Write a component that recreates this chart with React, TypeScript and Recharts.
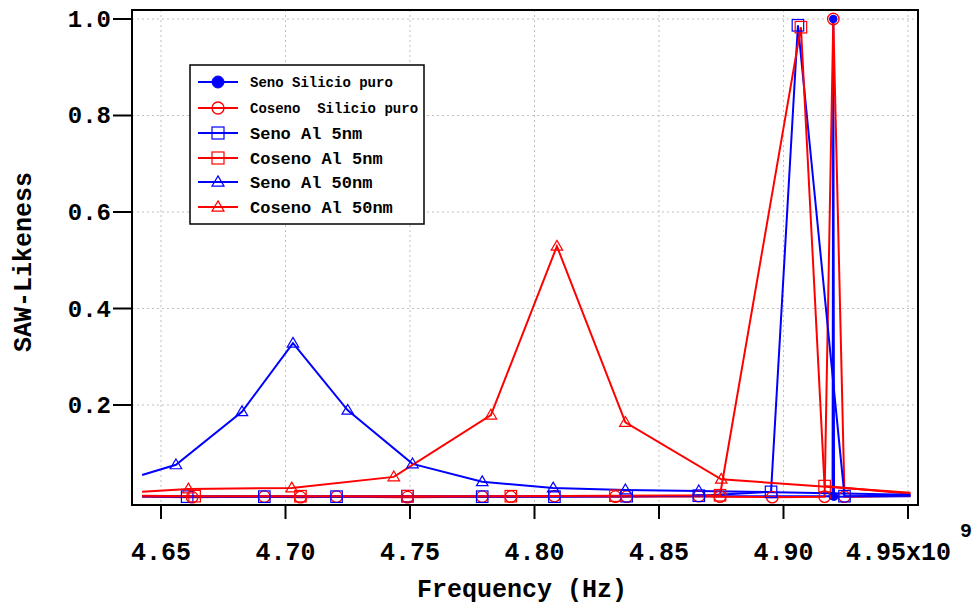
import React from 'react'
import { LineChart, Line, XAxis, YAxis, CartesianGrid, ReferenceArea } from 'recharts'

const FONT = "'Liberation Mono', 'Courier New', monospace"
const BLUE = '#0000ff'
const RED = '#ff0000'

// frequencies in units of 1e9 Hz
const X_TICKS = [4.65, 4.7, 4.75, 4.8, 4.85, 4.9, 4.95]
const Y_TICKS = [0.2, 0.4, 0.6, 0.8, 1.0]
const X_DOMAIN = [4.63835, 4.95402]
const Y_DOMAIN = [-0.00725, 1.01865]

const senoSiX = [4.6424, 4.9197, 4.92, 4.9203, 4.951]
const senoSiY = [0.011, 0.011, 1.0, 0.01, 0.011]

const cosenoSiX = [4.6424, 4.6625, 4.6915, 4.706, 4.7205, 4.749, 4.779, 4.7905, 4.808, 4.8325, 4.837, 4.866, 4.8745, 4.8955, 4.9165, 4.92, 4.9245, 4.951]
const cosenoSiY = [0.01, 0.009, 0.01, 0.009, 0.01, 0.009, 0.01, 0.01, 0.011, 0.01, 0.01, 0.011, 0.01, 0.009, 0.01, 1.0, 0.01, 0.012]

const senoAl5X = [4.6424, 4.6605, 4.6915, 4.7205, 4.749, 4.779, 4.808, 4.837, 4.866, 4.895, 4.9058, 4.9245, 4.951]
const senoAl5Y = [0.011, 0.01, 0.01, 0.01, 0.011, 0.01, 0.01, 0.011, 0.012, 0.02, 0.987, 0.011, 0.012]

const cosenoAl5X = [4.6424, 4.6635, 4.706, 4.749, 4.7905, 4.8325, 4.8745, 4.907, 4.9165, 4.951]
const cosenoAl5Y = [0.012, 0.011, 0.011, 0.011, 0.011, 0.012, 0.013, 0.983, 0.032, 0.016]

const senoAl50X = [4.6424, 4.656, 4.6825, 4.703, 4.725, 4.751, 4.779, 4.8075, 4.8365, 4.866, 4.951]
const senoAl50Y = [0.055, 0.076, 0.186, 0.328, 0.189, 0.078, 0.041, 0.028, 0.024, 0.022, 0.014]

const cosenoAl50X = [4.6424, 4.661, 4.7025, 4.7435, 4.7825, 4.809, 4.8365, 4.875, 4.951]
const cosenoAl50Y = [0.02, 0.026, 0.028, 0.051, 0.179, 0.529, 0.164, 0.046, 0.018]

const zip = (xs: number[], ys: number[]) => xs.map((x, i) => ({ x, y: ys[i] }))

type Shape = 'filled' | 'circle' | 'square' | 'triangle'

const SERIES: { name: string; color: string; shape: Shape; data: { x: number; y: number }[]; small?: boolean }[] = [
  { name: 'Seno Silicio puro', color: BLUE, shape: 'filled', data: zip(senoSiX, senoSiY), small: true },
  { name: 'Coseno  Silicio puro', color: RED, shape: 'circle', data: zip(cosenoSiX, cosenoSiY), small: true },
  { name: 'Seno Al 5nm', color: BLUE, shape: 'square', data: zip(senoAl5X, senoAl5Y) },
  { name: 'Coseno Al 5nm', color: RED, shape: 'square', data: zip(cosenoAl5X, cosenoAl5Y) },
  { name: 'Seno Al 50nm', color: BLUE, shape: 'triangle', data: zip(senoAl50X, senoAl50Y) },
  { name: 'Coseno Al 50nm', color: RED, shape: 'triangle', data: zip(cosenoAl50X, cosenoAl50Y) },
]

function marker(shape: Shape, color: string, cx: number, cy: number, s: number, key?: string) {
  if (shape === 'filled') return <circle key={key} cx={cx} cy={cy} r={s * 0.5} fill={color} stroke={color} />
  if (shape === 'circle') return <circle key={key} cx={cx} cy={cy} r={s * 0.5} fill="none" stroke={color} strokeWidth={1.3} />
  if (shape === 'square')
    return <rect key={key} x={cx - s / 2} y={cy - s / 2} width={s} height={s} fill="none" stroke={color} strokeWidth={1.2} />
  const h = s * 0.85
  return (
    <polygon key={key} points={`${cx},${cy - h * 0.6} ${cx + s / 2},${cy + h * 0.4} ${cx - s / 2},${cy + h * 0.4}`}
      fill="none" stroke={color} strokeWidth={1.2} />
  )
}

const makeDot = (shape: Shape, color: string, n: number) => (props: any) => {
  const { cx, cy, index } = props
  if (index === 0 || index === n - 1 || cx == null || cy == null) return <g key={`d${index}`} />
  return marker(shape, color, cx, cy, shape === 'filled' ? 7.5 : 11.5, `d${index}`)
}

function XTick({ x, y, payload }: any) {
  const v = payload.value as number
  const style = { fontFamily: FONT, fontWeight: 700, fontSize: 25, fill: '#000' }
  if (Math.abs(v - 4.95) < 1e-6) {
    return (
      <g>
        <text x={x - 2} y={y} dy={39} textAnchor="end" style={style}>4.95</text>
        <text x={x - 2} y={y} dy={39} textAnchor="start" style={style}>x10</text>
        <text x={x + 52} y={y} dy={16} textAnchor="start" style={{ ...style, fontSize: 20 }}>9</text>
      </g>
    )
  }
  return <text x={x} y={y} dy={39} textAnchor="middle" style={style}>{v.toFixed(2)}</text>
}

function YTick({ x, y, payload }: any) {
  return (
    <text x={x} y={y} dy={8} textAnchor="end" style={{ fontFamily: FONT, fontWeight: 700, fontSize: 24, fill: '#000' }}>
      {(payload.value as number).toFixed(1)}
    </text>
  )
}

function Legend() {
  const rowY = [18, 44, 69, 94, 118, 143]
  return (
    <svg width={236} height={161} style={{ position: 'absolute', left: 189, top: 64 }}>
      <rect x={1} y={1} width={234} height={159} fill="#fff" stroke="#000" strokeWidth={1.5} />
      {SERIES.map((s, i) => (
        <g key={s.name}>
          <line x1={9} x2={49} y1={rowY[i]} y2={rowY[i]} stroke={s.color} strokeWidth={2} />
          {marker(s.shape, s.color, 29, rowY[i], 12)}
          <text x={61} y={rowY[i]} dy={s.small ? 5 : 6} style={{ fontFamily: FONT, fontWeight: 700, fontSize: s.small ? 14 : 17, whiteSpace: 'pre' }}>
            {s.name}
          </text>
        </g>
      ))}
    </svg>
  )
}

export default function App() {
  return (
    <div style={{ position: 'absolute', left: 0, top: 0, width: 977, height: 605, background: '#fff' }}>
      <LineChart width={977} height={605} margin={{ top: 10, right: 59, left: 72, bottom: 40 }}>
        <CartesianGrid stroke="#c0c0c0" strokeDasharray="2 3" />
        <XAxis
          dataKey="x" type="number" domain={X_DOMAIN} ticks={X_TICKS} allowDataOverflow height={60}
          axisLine={false} tickSize={14} tickLine={{ stroke: '#000', strokeWidth: 2 }} tick={<XTick />}
          label={{ content: () => (
            <text x={522} y={597} textAnchor="middle" style={{ fontFamily: FONT, fontWeight: 700, fontSize: 25 }}>Frequency (Hz)</text>
          ) }}
        />
        <YAxis
          dataKey="y" type="number" domain={Y_DOMAIN} ticks={Y_TICKS} allowDataOverflow width={60}
          axisLine={false} tickSize={19} tickLine={{ stroke: '#000', strokeWidth: 2 }} tick={<YTick />}
          label={{ content: () => (
            <text x={0} y={0} transform="translate(31 262) rotate(-90)" textAnchor="middle" style={{ fontFamily: FONT, fontWeight: 700, fontSize: 25 }}>SAW-Likeness</text>
          ) }}
        />
        {SERIES.map((s) => (
          <Line key={s.name} data={s.data} dataKey="y" name={s.name} type="linear" stroke={s.color} strokeWidth={2}
            dot={makeDot(s.shape, s.color, s.data.length)} activeDot={false} isAnimationActive={false} />
        ))}
        <ReferenceArea x1={X_DOMAIN[0]} x2={X_DOMAIN[1]} y1={Y_DOMAIN[0]} y2={Y_DOMAIN[1]} fill="none" stroke="#000" strokeWidth={2} ifOverflow="visible" />
      </LineChart>
      <Legend />
    </div>
  )
}
